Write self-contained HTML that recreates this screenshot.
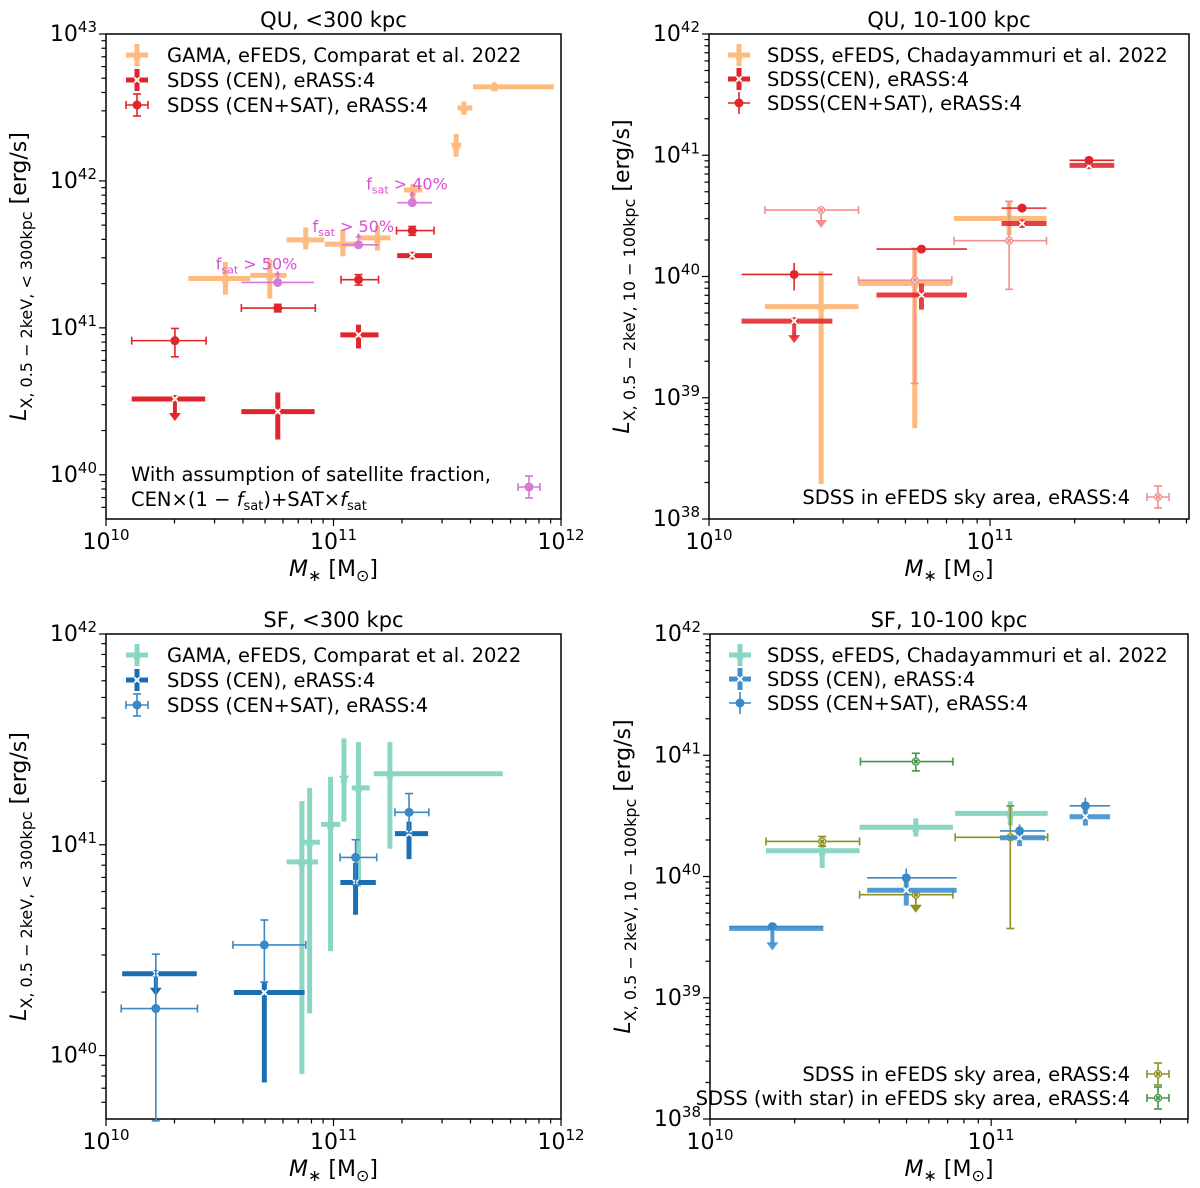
<!DOCTYPE html>
<html><head><meta charset="utf-8">
<style>
html,body{margin:0;padding:0;background:#fff;}
svg{display:block;font-family:"DejaVu Sans","Liberation Sans",sans-serif;}
</style></head>
<body>
<svg id="fig" width="1200" height="1188" viewBox="0 0 1200 1188" xmlns="http://www.w3.org/2000/svg"></svg>
<script>
// ---------- DATA (log10 units) ----------
const p1GamaM=[10.525,10.72,10.878,11.041,11.193,11.349,11.539,11.573,11.707];
const p1GamaMlo=[10.362,10.634,10.794,10.962,11.114,11.31,11.52,11.545,11.613];
const p1GamaMhi=[10.634,10.794,10.959,11.114,11.251,11.39,11.56,11.61,11.968];
const p1GamaL=[41.336,41.357,41.599,41.570,41.612,41.938,42.243,42.497,42.64];
const p1GamaLlo=[41.226,41.2,41.534,41.487,41.526,41.87,42.165,42.45,42.61];
const p1GamaLhi=[41.448,41.466,41.683,41.669,41.696,41.98,42.32,42.54,42.67];

const p1CenM=[10.303,10.755,11.11,11.346];
const p1CenMlo=[10.113,10.595,11.03,11.28];
const p1CenMhi=[10.436,10.917,11.198,11.433];
const p1CenL=[40.516,40.43,40.952,41.492];
const p1CenLlo=[40.516,40.24,40.86,41.47];
const p1CenLhi=[40.516,40.56,41.022,41.51];
const p1CenUL=[1,0,0,0];

const p1SatM=[10.303,10.755,11.11,11.346];
const p1SatMlo=[10.113,10.595,11.033,11.277];
const p1SatMhi=[10.44,10.92,11.198,11.442];
const p1SatL=[40.913,41.135,41.328,41.662];
const p1SatLlo=[40.803,41.109,41.291,41.630];
const p1SatLhi=[40.996,41.16,41.362,41.690];

const p1FsatM=[10.755,11.11,11.346];
const p1FsatMlo=[10.595,11.035,11.28];
const p1FsatMhi=[10.915,11.198,11.433];
const p1FsatL=[41.309,41.565,41.852];
const p1FsatLabels=["> 50%","> 50%","> 40%"];

const p2ChadM=[10.399,10.732,11.068];
const p2ChadMlo=[10.199,10.532,10.872];
const p2ChadMhi=[10.532,10.864,11.201];
const p2ChadL=[39.752,39.942,40.478];
const p2ChadLlo=[38.29,38.748,40.34];
const p2ChadLhi=[40.043,40.232,40.627];

const p2CenM=[10.303,10.756,11.114,11.352];
const p2CenMlo=[10.116,10.596,11.041,11.283];
const p2CenMhi=[10.439,10.918,11.201,11.442];
const p2CenL=[39.632,39.847,40.437,40.917];
const p2CenLlo=[39.632,39.727,40.40,40.90];
const p2CenLhi=[39.632,39.942,40.47,40.94];
const p2CenUL=[1,0,0,0];

const p2SatM=[10.303,10.756,11.114,11.352];
const p2SatMlo=[10.116,10.596,11.041,11.283];
const p2SatMhi=[10.439,10.918,11.201,11.442];
const p2SatL=[40.017,40.226,40.564,40.958];
const p2SatLlo=[39.885,40.226,40.564,40.958];
const p2SatLhi=[40.112,40.226,40.564,40.958];

const p2EfM=[10.399,10.732,11.068];
const p2EfMlo=[10.199,10.532,10.872];
const p2EfMhi=[10.532,10.864,11.201];
const p2EfL=[40.548,39.97,40.295];
const p2EfLlo=[40.548,39.118,39.894];
const p2EfLhi=[40.548,40.232,40.62];
const p2EfUL=[1,0,0];

const p3GamaM=[10.861,10.895,10.987,11.046,11.110,11.248];
const p3GamaMlo=[10.794,10.86,10.945,11.035,11.08,11.177];
const p3GamaMhi=[10.932,10.94,11.03,11.06,11.159,11.744];
const p3GamaL=[40.919,41.012,41.097,41.318,41.27,41.337];
const p3GamaLlo=[39.913,40.2,40.495,41.11,40.8,40.981];
const p3GamaLhi=[41.207,41.27,41.323,41.505,41.487,41.487];

const p3CenM=[10.219,10.696,11.097,11.332];
const p3CenMlo=[10.071,10.562,11.03,11.27];
const p3CenMhi=[10.399,10.873,11.186,11.416];
const p3CenL=[40.388,40.299,40.821,41.053];
const p3CenLlo=[40.388,39.872,40.668,40.932];
const p3CenLhi=[40.388,40.35,40.914,41.110];
const p3CenUL=[1,0,0,0];

const p3SatM=[10.219,10.696,11.097,11.332];
const p3SatMlo=[10.067,10.558,11.029,11.27];
const p3SatMhi=[10.402,10.878,11.19,11.419];
const p3SatL=[40.223,40.525,40.940,41.154];
const p3SatLlo=[39.69,40.349,40.81,41.056];
const p3SatLhi=[40.481,40.643,41.024,41.243];

const p4ChadM=[10.399,10.732,11.068];
const p4ChadMlo=[10.199,10.532,10.872];
const p4ChadMhi=[10.532,10.864,11.201];
const p4ChadL=[40.212,40.406,40.521];
const p4ChadLlo=[40.07,40.33,40.42];
const p4ChadLhi=[40.3,40.48,40.62];

const p4CenM=[10.222,10.698,11.101,11.335];
const p4CenMlo=[10.068,10.559,11.031,11.279];
const p4CenMhi=[10.403,10.877,11.192,11.423];
const p4CenL=[39.572,39.887,40.32,40.493];
const p4CenLlo=[39.572,39.76,40.25,40.42];
const p4CenLhi=[39.572,39.96,40.39,40.56];
const p4CenUL=[1,0,0,0];

const p4SatM=[10.222,10.698,11.101,11.335];
const p4SatMlo=[10.068,10.559,11.031,11.279];
const p4SatMhi=[10.403,10.877,11.192,11.423];
const p4SatL=[39.587,39.989,40.376,40.583];
const p4SatLlo=[39.587,39.91,40.33,40.52];
const p4SatLhi=[39.587,40.066,40.43,40.65];

const p4EfM=[10.399,10.732,11.068];
const p4EfMlo=[10.199,10.532,10.872];
const p4EfMhi=[10.532,10.864,11.201];
const p4EfL=[40.289,39.85,40.323];
const p4EfLlo=[40.25,39.85,39.571];
const p4EfLhi=[40.33,39.85,40.583];
const p4EfUL=[0,1,0];

const p4StarM=[10.732];
const p4StarMlo=[10.535];
const p4StarMhi=[10.864];
const p4StarL=[40.948];
const p4StarLlo=[40.871];
const p4StarLhi=[41.016];

// ---------- RENDER ----------
const NS="http://www.w3.org/2000/svg";
const svg=document.getElementById('fig');
function el(tag,attrs,parent){const e=document.createElementNS(NS,tag);for(const k in attrs)e.setAttribute(k,attrs[k]);(parent||svg).appendChild(e);return e;}

function makePanel(id,x0,x1,xmin,xmax,y0,y1,ymin,ymax){
  const g=el('g',{});
  
  
  const X=v=>x0+(v-xmin)/(xmax-xmin)*(x1-x0);
  const Y=v=>y1-(v-ymin)/(ymax-ymin)*(y1-y0);
  const tg=el('g',{stroke:'#000','stroke-width':1.2},g);
  
  
  for(let d=Math.floor(xmin);d<=Math.ceil(xmax);d++){
    for(let k=1;k<10;k++){
      const v=d+Math.log10(k); if(v<xmin-1e-6||v>xmax+1e-6)continue;
      const px=X(v); const len=k===1?7:4.5;
      el('line',{x1:px,x2:px,y1:y1,y2:y1+len},tg);
    }
  }
  for(let d=Math.floor(ymin);d<=Math.ceil(ymax);d++){
    for(let k=1;k<10;k++){
      const v=d+Math.log10(k); if(v<ymin-1e-6||v>ymax+1e-6)continue;
      const py=Y(v); const len=k===1?7:4.5;
      el('line',{x1:x0-len,x2:x0,y1:py,y2:py},tg);
    }
  }
  for(let d=Math.ceil(xmin-1e-6);d<=Math.floor(xmax+1e-6);d++){
    const t=el('text',{x:X(d),y:y1+30,'font-size':22,'text-anchor':'middle'},g);
    t.innerHTML='10<tspan font-size="15" dy="-9">'+d+'</tspan>';
    
    
  }
  for(let d=Math.ceil(ymin-1e-6);d<=Math.floor(ymax+1e-6);d++){
    const t=el('text',{x:x0-9,y:Y(d)+7,'font-size':22,'text-anchor':'end'},g);
    t.innerHTML='10<tspan font-size="15" dy="-9">'+d+'</tspan>';
    
    
  }
  const fr=el('rect',{x:x0,y:y0,width:x1-x0,height:y1-y0,fill:'none',stroke:'#000','stroke-width':1.5},g);
  
  
  return {g,X,Y,x0,x1,y0,y1};
}

function hline(p,xa,xb,y,c,w,op){return el('line',{x1:xa,x2:xb,y1:y,y2:y,stroke:c,'stroke-width':w,'stroke-opacity':op||1},p);}
function vline(p,x,ya,yb,c,w,op){return el('line',{x1:x,x2:x,y1:ya,y2:yb,stroke:c,'stroke-width':w,'stroke-opacity':op||1},p);}
function arrowDown(p,x,y,c,w,op,len){
  vline(p,x,y,y+len-6,c,w,op);
  el('polygon',{points:`${x-6},${y+len-8} ${x+6},${y+len-8} ${x},${y+len}`,fill:c,'fill-opacity':op||1},p);
}
function xmark(p,x,y,s,c){
  el('path',{d:`M${x-s},${y-s}L${x+s},${y+s}M${x-s},${y+s}L${x+s},${y-s}`,stroke:c,'stroke-width':2},p);
}
function star(p,x,y,r,c){
  let pts=[];for(let i=0;i<10;i++){const a=-Math.PI/2+i*Math.PI/5;const rr=i%2?r*0.45:r;pts.push((x+rr*Math.cos(a)).toFixed(1)+','+(y+rr*Math.sin(a)).toFixed(1));}
  el('polygon',{points:pts.join(' '),fill:c},p);
}

function series(P,name,style,c,M,Mlo,Mhi,L,Llo,Lhi,UL,opts){
  opts=opts||{};
  const sg=el('g',{},P.g);
  
  
  for(let i=0;i<M.length;i++){
    const pg=el('g',{},sg);
    
    
    const x=P.X(M[i]),y=P.Y(L[i]),xa=P.X(Mlo[i]),xb=P.X(Mhi[i]),ya=P.Y(Lhi[i]),yb=P.Y(Llo[i]);
    const ul=UL&&UL[i];
    const thick=(style==='comp'||style==='cen');
    const w=thick?5:1.6, op=opts.op||1;
    hline(pg,xa,xb,y,c,w,op);
    if(ul){arrowDown(pg,x,y,c,thick?4:1.8,op,thick?22:18);}
    else if(yb-ya>0.5){vline(pg,x,ya,yb,c,w,op);}
    if(opts.caps){
      vline(pg,xa,y-4,y+4,c,1.6,op);vline(pg,xb,y-4,y+4,c,1.6,op);
      if(!ul&&yb-ya>0.5){hline(pg,x-4,x+4,ya,c,1.6,op);hline(pg,x-4,x+4,yb,c,1.6,op);}
    }
    if(style==='comp')star(pg,x,y,6,c);
    else if(style==='cen'){el('circle',{cx:x,cy:y,r:4,fill:c,'fill-opacity':op},pg);xmark(pg,x,y,2.6,'#fff');}
    else if(style==='sat'){el('circle',{cx:x,cy:y,r:4.5,fill:c},pg);}
    else if(style==='ef'){el('circle',{cx:x,cy:y,r:3.5,fill:'#fff',stroke:c,'stroke-width':1.2},pg);xmark(pg,x,y,1.8,c);}
    else if(style==='fsat'){
      el('circle',{cx:x,cy:y,r:4.5,fill:c},pg);
      vline(pg,x,y,y-8,c,1.5);el('polygon',{points:`${x-3},${y-7} ${x+3},${y-7} ${x},${y-12}`,fill:c},pg);}
  }
  return sg;
}

function legendHandle(g,x,y,style,c,caps){
  const thick=(style==='comp'||style==='cen');
  const w=thick?5:1.6;
  hline(g,x-11,x+11,y,c,w);vline(g,x,y-11,y+11,c,w);
  if(caps){vline(g,x-11,y-4,y+4,c,1.6);vline(g,x+11,y-4,y+4,c,1.6);hline(g,x-4,x+4,y-11,c,1.6);hline(g,x-4,x+4,y+11,c,1.6);}
  if(style==='comp')star(g,x,y,6,c);
  else if(style==='cen'){el('circle',{cx:x,cy:y,r:4,fill:c},g);xmark(g,x,y,2.6,'#fff');}
  else if(style==='sat')el('circle',{cx:x,cy:y,r:4.5,fill:c},g);
  else if(style==='ef'){el('circle',{cx:x,cy:y,r:3.5,fill:'#fff',stroke:c,'stroke-width':1.2},g);xmark(g,x,y,1.8,c);}
}
function legend(P,name,items,hx,tx,y0,dy,anchor){
  const lg=el('g',{},P.g);
  
  
  items.forEach((it,i)=>{
    const eg=el('g',{},lg);
    
    
    const y=y0+i*dy;
    legendHandle(eg,hx,y,it[1],it[2],it[3]);
    const t=el('text',{x:tx,y:y+7,'font-size':19.5,'text-anchor':anchor||'start'},eg);
    t.textContent=it[0];
  });
}
function titles(P,title,ylab){
  const cx=(P.x0+P.x1)/2;
  const t=el('text',{x:cx,y:P.y0-7,'font-size':21,'text-anchor':'middle'},P.g);
  t.textContent=title;
  
  
  const xl=el('text',{x:cx,y:P.y1+57,'font-size':22,'text-anchor':'middle'},P.g);
  xl.innerHTML='<tspan font-style="italic">M</tspan><tspan font-size="16" dy="5">∗</tspan><tspan dy="-5"> [M</tspan><tspan font-size="16" dy="5">⊙</tspan><tspan dy="-5">]</tspan>';
  
  
  const cy=(P.y0+P.y1)/2, lx=P.x0-80;
  const yl=el('text',{x:0,y:0,'font-size':22,'text-anchor':'middle',transform:`translate(${lx},${cy}) rotate(-90)`},P.g);
  yl.innerHTML='<tspan font-style="italic">L</tspan><tspan font-size="16" dy="6">'+ylab+'</tspan><tspan dy="-6"> [erg/s]</tspan>';
  
  
}

const ORANGE='#fdbb7f', RED='#e1262b', ORCHID='#d77ad6', SALMON='#f29090';
const TEAL='#8ad5c3', DBLUE='#1c6eb3', MBLUE='#3a88c6', LBLUE='#3f8fcc', OLIVE='#8f8f1f', GREEN='#43964a';

// Panel 1
const P1=makePanel('panel-qu-300kpc',106,561,10,12,34,519,39.699,43);
series(P1,'gama-comparat-series','comp',ORANGE,p1GamaM,p1GamaMlo,p1GamaMhi,p1GamaL,p1GamaLlo,p1GamaLhi,null);
series(P1,'sdss-cen-series','cen',RED,p1CenM,p1CenMlo,p1CenMhi,p1CenL,p1CenLlo,p1CenLhi,p1CenUL);
series(P1,'sdss-censat-series','sat',RED,p1SatM,p1SatMlo,p1SatMhi,p1SatL,p1SatLlo,p1SatLhi,null,{caps:true});
series(P1,'fsat-series','fsat',ORCHID,p1FsatM,p1FsatMlo,p1FsatMhi,p1FsatL,p1FsatL,p1FsatL,null);
p1FsatM.forEach((m,i)=>{
  const t=el('text',{x:P1.X(m)-4-(i===0?58:42),y:P1.Y(p1FsatL[i])-13,'font-size':16,fill:'#d84fd2'},P1.g);
  t.innerHTML='f<tspan font-size="11" dy="4">sat</tspan><tspan dy="-4"> '+p1FsatLabels[i]+'</tspan>';
  
  
});
legend(P1,'legend-qu-300',[['GAMA, eFEDS, Comparat et al. 2022','comp',ORANGE],['SDSS (CEN), eRASS:4','cen',RED],['SDSS (CEN+SAT), eRASS:4','sat',RED,true]],137,167,55,25);
{const ng=el('g',{},P1.g);
 const t1=el('text',{x:131,y:481,'font-size':19.5},ng);t1.textContent='With assumption of satellite fraction,';
 const t2=el('text',{x:131,y:506,'font-size':19.5},ng);t2.innerHTML='CEN×(1 − <tspan font-style="italic">f</tspan><tspan font-size="13" dy="4">sat</tspan><tspan dy="-4">)+SAT×</tspan><tspan font-style="italic">f</tspan><tspan font-size="13" dy="4">sat</tspan>';
 legendHandle(ng,529,487,'sat',ORCHID,true);}
titles(P1,'QU, <300 kpc','X, 0.5 − 2keV, < 300kpc');

// Panel 2
const P2=makePanel('panel-qu-10-100kpc',709,1189,10,11.708,34,519,38,42);
series(P2,'chadayammuri-series','comp',ORANGE,p2ChadM,p2ChadMlo,p2ChadMhi,p2ChadL,p2ChadLlo,p2ChadLhi,null);
series(P2,'efeds-sky-series','ef',SALMON,p2EfM,p2EfMlo,p2EfMhi,p2EfL,p2EfLlo,p2EfLhi,p2EfUL,{caps:true});
series(P2,'sdss-cen-series','cen',RED,p2CenM,p2CenMlo,p2CenMhi,p2CenL,p2CenLlo,p2CenLhi,p2CenUL,{op:0.88});
series(P2,'sdss-censat-series','sat',RED,p2SatM,p2SatMlo,p2SatMhi,p2SatL,p2SatLlo,p2SatLhi,null);
legend(P2,'legend-qu-10-100',[['SDSS, eFEDS, Chadayammuri et al. 2022','comp',ORANGE],['SDSS(CEN), eRASS:4','cen',RED],['SDSS(CEN+SAT), eRASS:4','sat',RED]],739,767,55,24);
legend(P2,'legend-efeds-qu',[['SDSS in eFEDS sky area, eRASS:4','ef',SALMON,true]],1158,1130,497,24,'end');
titles(P2,'QU, 10-100 kpc','X, 0.5 − 2keV, 10 − 100kpc');

// Panel 3
const P3=makePanel('panel-sf-300kpc',106,561,10,12,634,1119,39.699,42);
series(P3,'gama-comparat-series','comp',TEAL,p3GamaM,p3GamaMlo,p3GamaMhi,p3GamaL,p3GamaLlo,p3GamaLhi,null);
series(P3,'sdss-cen-series','cen',DBLUE,p3CenM,p3CenMlo,p3CenMhi,p3CenL,p3CenLlo,p3CenLhi,p3CenUL);
series(P3,'sdss-censat-series','sat',MBLUE,p3SatM,p3SatMlo,p3SatMhi,p3SatL,p3SatLlo,p3SatLhi,null,{caps:true});
legend(P3,'legend-sf-300',[['GAMA, eFEDS, Comparat et al. 2022','comp',TEAL],['SDSS (CEN), eRASS:4','cen',DBLUE],['SDSS (CEN+SAT), eRASS:4','sat',MBLUE,true]],137,167,655,25);
titles(P3,'SF, <300 kpc','X, 0.5 − 2keV, < 300kpc');

// Panel 4
const P4=makePanel('panel-sf-10-100kpc',710,1188,10,11.70,634,1119,38,42);
series(P4,'chadayammuri-series','comp',TEAL,p4ChadM,p4ChadMlo,p4ChadMhi,p4ChadL,p4ChadLlo,p4ChadLhi,null);
series(P4,'efeds-sky-series','ef',OLIVE,p4EfM,p4EfMlo,p4EfMhi,p4EfL,p4EfLlo,p4EfLhi,p4EfUL,{caps:true});
series(P4,'efeds-star-series','ef',GREEN,p4StarM,p4StarMlo,p4StarMhi,p4StarL,p4StarLlo,p4StarLhi,null,{caps:true});
series(P4,'sdss-cen-series','cen',LBLUE,p4CenM,p4CenMlo,p4CenMhi,p4CenL,p4CenLlo,p4CenLhi,p4CenUL,{op:0.9});
series(P4,'sdss-censat-series','sat',MBLUE,p4SatM,p4SatMlo,p4SatMhi,p4SatL,p4SatLlo,p4SatLhi,null);
legend(P4,'legend-sf-10-100',[['SDSS, eFEDS, Chadayammuri et al. 2022','comp',TEAL],['SDSS (CEN), eRASS:4','cen',LBLUE],['SDSS (CEN+SAT), eRASS:4','sat',MBLUE]],740,767,655,24);
legend(P4,'legend-efeds-sf',[['SDSS in eFEDS sky area, eRASS:4','ef',OLIVE,true],['SDSS (with star) in eFEDS sky area, eRASS:4','ef',GREEN,true]],1158,1130,1074,24,'end');
titles(P4,'SF, 10-100 kpc','X, 0.5 − 2keV, 10 − 100kpc');
</script>
</body></html>
